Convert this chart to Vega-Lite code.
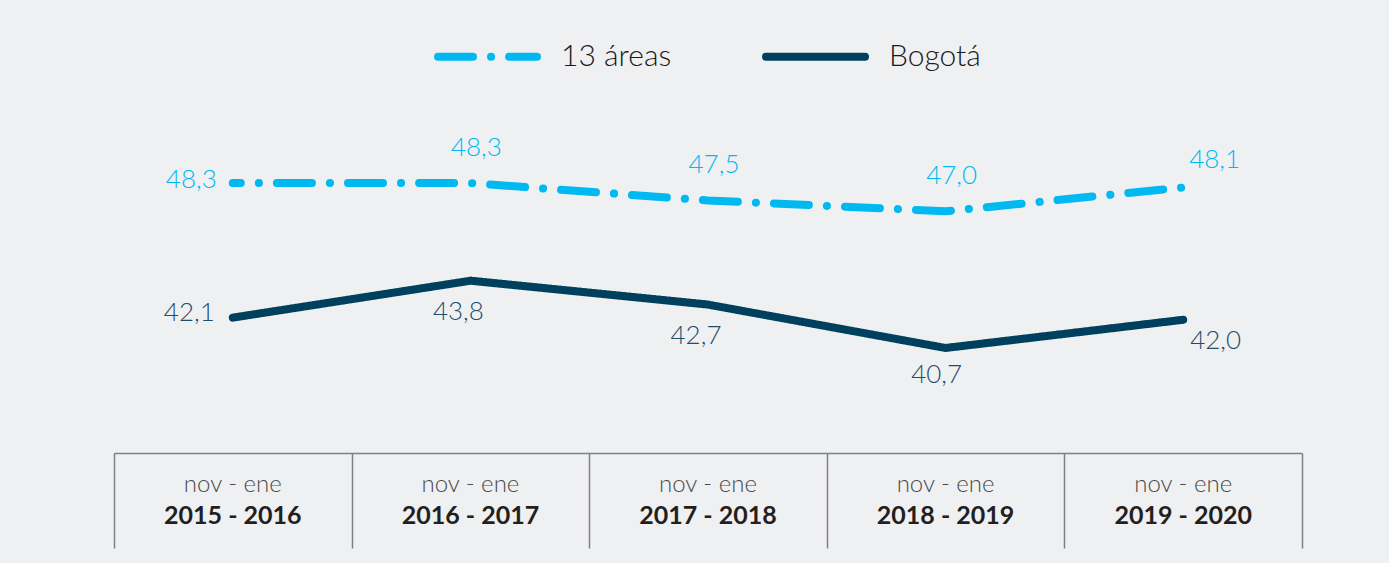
{
  "$schema": "https://vega.github.io/schema/vega-lite/v6.json",
  "autosize": {"type": "none"},
  "padding": {"left": 114, "top": 100, "right": 87, "bottom": 110},
  "width": 1188,
  "height": 353,
  "background": "#eff0f2",
  "config": {
    "view": {"stroke": null},
    "font": "Lato",
    "locale": {"number": {"decimal": ",", "thousands": ".", "grouping": [3], "currency": ["", ""]}}
  },
  "data": {"values": [
    {"periodo": "2015 - 2016", "serie": "13 áreas", "valor": 48.3},
    {"periodo": "2016 - 2017", "serie": "13 áreas", "valor": 48.3},
    {"periodo": "2017 - 2018", "serie": "13 áreas", "valor": 47.5},
    {"periodo": "2018 - 2019", "serie": "13 áreas", "valor": 47.0},
    {"periodo": "2019 - 2020", "serie": "13 áreas", "valor": 48.1},
    {"periodo": "2015 - 2016", "serie": "Bogotá", "valor": 42.1},
    {"periodo": "2016 - 2017", "serie": "Bogotá", "valor": 43.8},
    {"periodo": "2017 - 2018", "serie": "Bogotá", "valor": 42.7},
    {"periodo": "2018 - 2019", "serie": "Bogotá", "valor": 40.7},
    {"periodo": "2019 - 2020", "serie": "Bogotá", "valor": 42.0}
  ]},
  "resolve": {"axis": {"x": "independent"}},
  "encoding": {
    "y": {"field": "valor", "type": "quantitative", "scale": {"domain": [35.86, 52.13], "zero": false, "nice": false}, "axis": null}
  },
  "layer": [
    {
      "mark": {"type": "line", "strokeWidth": 8, "strokeCap": "round", "strokeDashOffset": 27},
      "encoding": {
        "x": {"field": "periodo", "type": "nominal", "scale": {"paddingInner": 0, "paddingOuter": 0},
          "axis": {"title": null, "orient": "bottom", "labels": false, "domain": true, "domainColor": "#808080", "domainWidth": 1.5, "ticks": true, "tickBand": "extent", "tickSize": 95, "tickColor": "#808080", "tickWidth": 1.5, "grid": false}},
        "color": {"field": "serie", "type": "nominal", "scale": {"domain": ["13 áreas", "Bogotá"], "range": ["#00b9f1", "#00405f"]},
          "legend": {"title": null, "orient": "none", "legendX": 320, "legendY": -97, "direction": "horizontal", "columns": 2, "symbolType": "stroke", "symbolSize": 9800, "symbolStrokeWidth": 8, "labelFontSize": 30, "labelFont": "Lato", "labelFontWeight": 300, "labelColor": "#1a1a1a", "labelOffset": 20, "columnPadding": 78, "labelLimit": 300,
            "encode": {"symbols": {"update": {"strokeCap": {"value": "round"}}}}}},
        "strokeDash": {"field": "serie", "type": "nominal", "scale": {"domain": ["13 áreas", "Bogotá"], "range": [[35, 18, 0.1, 18], [1, 0]]},
          "legend": {"title": null, "orient": "none", "legendX": 320, "legendY": -97, "direction": "horizontal", "columns": 2, "symbolType": "stroke", "symbolSize": 9800, "symbolStrokeWidth": 8, "labelFontSize": 30, "labelFont": "Lato", "labelFontWeight": 300, "labelColor": "#1a1a1a", "labelOffset": 20, "columnPadding": 78, "labelLimit": 300,
            "encode": {"symbols": {"update": {"strokeCap": {"value": "round"}}}}}}
      }
    },
    {
      "mark": {"type": "point", "opacity": 0},
      "encoding": {
        "x": {"field": "periodo", "type": "nominal",
          "axis": {"title": null, "orient": "bottom", "labelAngle": 0, "labelFontSize": 25, "labelFontWeight": "bold", "labelColor": "#231f20", "labelBaseline": "middle", "labelPadding": 62, "domain": false, "ticks": false, "grid": false, "labelFont": "Lato"}}
      }
    },
    {
      "mark": {"type": "point", "opacity": 0},
      "encoding": {
        "x": {"field": "periodo", "type": "nominal",
          "axis": {"title": null, "orient": "bottom", "labelAngle": 0, "labelExpr": "'nov - ene'", "labelFontSize": 24, "labelFontWeight": 300, "labelColor": "#4a4a4a", "labelBaseline": "middle", "labelPadding": 31, "domain": false, "ticks": false, "grid": false, "labelFont": "Lato"}}
      }
    },
    {
      "transform": [{"filter": "datum.serie == '13 áreas' && datum.periodo == '2015 - 2016'"}],
      "mark": {"type": "text", "align": "right", "baseline": "middle", "dx": -16, "dy": -3, "fontSize": 26, "fontWeight": 300, "color": "#00b9f1"},
      "encoding": {"x": {"field": "periodo", "type": "nominal", "axis": null}, "text": {"field": "valor", "type": "quantitative", "format": ".1f"}}
    },
    {
      "transform": [{"filter": "datum.serie == '13 áreas' && datum.periodo != '2015 - 2016' && datum.periodo != '2019 - 2020'"}],
      "mark": {"type": "text", "align": "center", "baseline": "middle", "dx": 6, "dy": -35, "fontSize": 26, "fontWeight": 300, "color": "#00b9f1"},
      "encoding": {"x": {"field": "periodo", "type": "nominal", "axis": null}, "text": {"field": "valor", "type": "quantitative", "format": ".1f"}}
    },
    {
      "transform": [{"filter": "datum.serie == '13 áreas' && datum.periodo == '2019 - 2020'"}],
      "mark": {"type": "text", "align": "left", "baseline": "middle", "dx": 6, "dy": -27, "fontSize": 26, "fontWeight": 300, "color": "#00b9f1"},
      "encoding": {"x": {"field": "periodo", "type": "nominal", "axis": null}, "text": {"field": "valor", "type": "quantitative", "format": ".1f"}}
    },
    {
      "transform": [{"filter": "datum.serie == 'Bogotá' && datum.periodo == '2015 - 2016'"}],
      "mark": {"type": "text", "align": "right", "baseline": "middle", "dx": -18, "dy": -5, "fontSize": 26, "fontWeight": 300, "color": "#1f4d6c"},
      "encoding": {"x": {"field": "periodo", "type": "nominal", "axis": null}, "text": {"field": "valor", "type": "quantitative", "format": ".1f"}}
    },
    {
      "transform": [{"filter": "datum.serie == 'Bogotá' && (datum.periodo == '2016 - 2017' || datum.periodo == '2017 - 2018')"}],
      "mark": {"type": "text", "align": "center", "baseline": "middle", "dx": -12, "dy": 31, "fontSize": 26, "fontWeight": 300, "color": "#1f4d6c"},
      "encoding": {"x": {"field": "periodo", "type": "nominal", "axis": null}, "text": {"field": "valor", "type": "quantitative", "format": ".1f"}}
    },
    {
      "transform": [{"filter": "datum.serie == 'Bogotá' && datum.periodo == '2018 - 2019'"}],
      "mark": {"type": "text", "align": "center", "baseline": "middle", "dx": -9, "dy": 27, "fontSize": 26, "fontWeight": 300, "color": "#1f4d6c"},
      "encoding": {"x": {"field": "periodo", "type": "nominal", "axis": null}, "text": {"field": "valor", "type": "quantitative", "format": ".1f"}}
    },
    {
      "transform": [{"filter": "datum.serie == 'Bogotá' && datum.periodo == '2019 - 2020'"}],
      "mark": {"type": "text", "align": "left", "baseline": "middle", "dx": 7, "dy": 21, "fontSize": 26, "fontWeight": 300, "color": "#1f4d6c"},
      "encoding": {"x": {"field": "periodo", "type": "nominal", "axis": null}, "text": {"field": "valor", "type": "quantitative", "format": ".1f"}}
    }
  ]
}
